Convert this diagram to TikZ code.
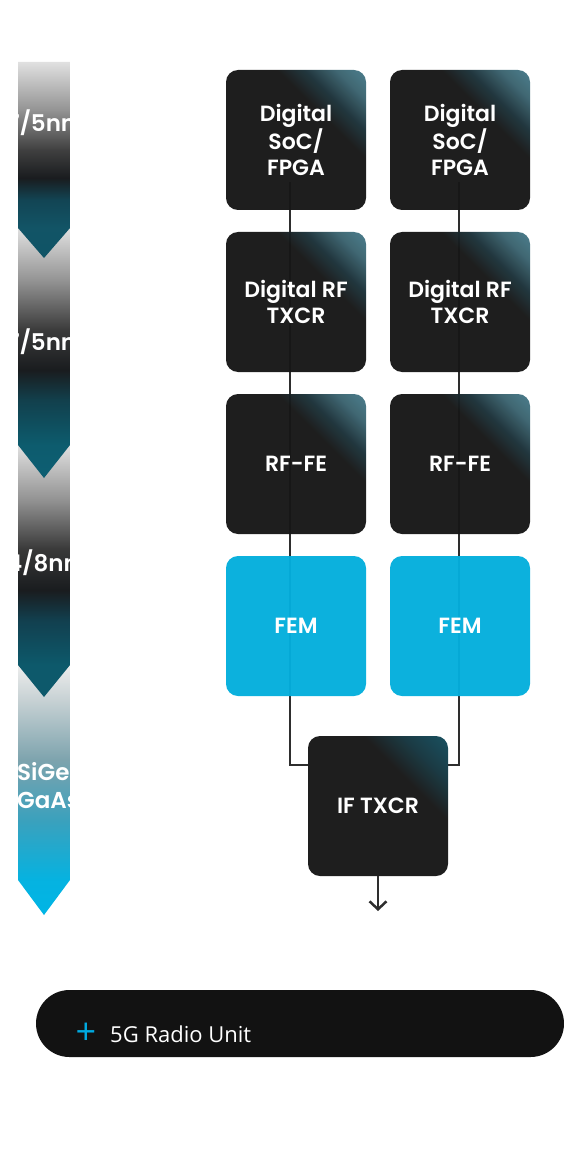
\documentclass[tikz,border=0pt]{standalone}
\usepackage{fontspec}
\setmainfont{Poppins}
\newfontfamily\chipfont{Poppins SemiBold}
\newfontfamily\unitfont{Open Sans}
\usetikzlibrary{arrows.meta}

\definecolor{boxdark}{HTML}{171717}
\definecolor{glowteal}{HTML}{4A8394}
\definecolor{glowmid}{HTML}{1C3C47}
\definecolor{ifteal}{HTML}{124D5E}
\definecolor{femblue}{HTML}{04AEDC}
\definecolor{wiregray}{HTML}{2E2E2E}
\definecolor{pillblack}{HTML}{121212}
\definecolor{plusblue}{HTML}{00A9E0}

\pgfdeclarehorizontalshading{chipglow}{100bp}{color(0bp)=(boxdark); color(63bp)=(boxdark); color(70bp)=(glowmid!70!boxdark); color(78bp)=(glowteal!70!boxdark); color(88bp)=(glowteal); color(100bp)=(glowteal)}
\pgfdeclarehorizontalshading{ifglow}{100bp}{color(0bp)=(boxdark); color(64bp)=(boxdark); color(74bp)=(ifteal!55!boxdark); color(86bp)=(ifteal); color(100bp)=(ifteal)}

% process bar, one shading per stage
\pgfdeclareverticalshading{stageA}{100bp}{rgb(0bp)=(0.06,0.33,0.40); rgb(25bp)=(0.06,0.33,0.40); rgb(32.7bp)=(0.07,0.33,0.40); rgb(39.8bp)=(0.07,0.27,0.33); rgb(45.4bp)=(0.10,0.11,0.12); rgb(52.6bp)=(0.25,0.25,0.25); rgb(62.8bp)=(0.58,0.58,0.58); rgb(75bp)=(0.88,0.88,0.88); rgb(100bp)=(0.88,0.88,0.88)}
\pgfdeclareverticalshading{stageB}{100bp}{rgb(0bp)=(0.05,0.37,0.45); rgb(25bp)=(0.05,0.37,0.45); rgb(31.6bp)=(0.05,0.36,0.43); rgb(40.6bp)=(0.07,0.25,0.30); rgb(46.6bp)=(0.10,0.11,0.12); rgb(54.6bp)=(0.23,0.23,0.23); rgb(64.6bp)=(0.58,0.58,0.58); rgb(75bp)=(0.88,0.88,0.88); rgb(100bp)=(0.88,0.88,0.88)}
\pgfdeclareverticalshading{stageC}{100bp}{rgb(0bp)=(0.05,0.35,0.42); rgb(25bp)=(0.05,0.35,0.42); rgb(31.3bp)=(0.05,0.35,0.42); rgb(40.2bp)=(0.07,0.25,0.31); rgb(46.2bp)=(0.10,0.11,0.12); rgb(54.2bp)=(0.22,0.22,0.22); rgb(64bp)=(0.57,0.57,0.57); rgb(75bp)=(0.88,0.88,0.88); rgb(100bp)=(0.88,0.88,0.88)}
\pgfdeclareverticalshading{stageD}{100bp}{rgb(0bp)=(0,0.71,0.90); rgb(25bp)=(0,0.71,0.90); rgb(32bp)=(0.02,0.70,0.88); rgb(44bp)=(0.23,0.63,0.74); rgb(56bp)=(0.49,0.64,0.68); rgb(68bp)=(0.78,0.82,0.83); rgb(75bp)=(0.93,0.93,0.93); rgb(100bp)=(0.93,0.93,0.93)}

\pgfdeclarelayer{wires}
\pgfsetlayers{wires,main}

\tikzset{
  block/.style={rounded corners=12pt, minimum width=140pt, minimum height=140pt, inner sep=0pt,
    fill opacity=0.97, text opacity=1, text=white,
    font=\chipfont\fontsize{22}{26}\selectfont, align=center},
  chip/.style={block, shading=chipglow, shading angle=45},
  fem/.style={block, fill=femblue},
  wire/.style={draw=wiregray, line width=2.5pt},
  stagelabel/.style={anchor=base west, inner sep=0pt, text=white, font=\chipfont\fontsize{23}{28}\selectfont, align=left},
  pill/.style={fill=pillblack, rounded corners=33.5pt, minimum width=528pt, minimum height=67pt, inner sep=0pt}
}

\begin{document}
\begin{tikzpicture}[x=1pt, y=-1pt]
    \useasboundingbox (0, 0) rectangle (564, 1150);

    % process bar
    \shade[shading=stageD] (18, 665) to (70, 665) to (70, 880) to (44, 915) to (18, 880) -- cycle;
    \shade[shading=stageC] (18, 445) to (70, 445) to (70, 665) to (44, 697) to (18, 665) -- cycle;
    \shade[shading=stageB] (18, 228) to (70, 228) to (70, 445) to (44, 478) to (18, 445) -- cycle;
    \shade[shading=stageA] (18, 62) to (70, 62) to (70, 228) to (44, 258) to (18, 228) -- cycle;

    \node[stagelabel] (nodeA) at (7, 132) {7/5nm};
    \node[stagelabel] (nodeB) at (7, 350) {7/5nm};
    \node[stagelabel] (nodeC) at (7, 571) {4/8nm};
    \node[stagelabel] (nodeD) at (17, 808) {SiGe/\\GaAs};

    % two chains
    \node[chip] (socL) at (296, 140) {Digital\\SoC/\\FPGA};
    \node[chip] (socR) at (460, 140) {Digital\\SoC/\\FPGA};
    \node[chip] (rfL) at (296, 302) {Digital RF\\TXCR};
    \node[chip] (rfR) at (460, 302) {Digital RF\\TXCR};
    \node[chip] (feL) at (296, 464) {RF-FE};
    \node[chip] (feR) at (460, 464) {RF-FE};
    \node[fem] (femL) at (296, 626) {FEM};
    \node[fem] (femR) at (460, 626) {FEM};
    \node[chip, shading=ifglow] (iftx) at (378, 806) {IF TXCR};

    \coordinate (tapL) at (290, 182);
    \coordinate (tapR) at (459, 182);
    \coordinate (joinL) at (290, 765);
    \coordinate (joinR) at (459, 765);
    \coordinate (out) at (378, 911);

    \begin{pgfonlayer}{wires}
        \draw[wire] (tapL) to (joinL) to (joinL -| iftx.west);
        \draw[wire] (tapR) to (joinR) to (joinR -| iftx.east);
    \end{pgfonlayer}
    \draw[wire, -{Straight Barb[length=8pt, width=17pt]}] (iftx.south) to (out);

    % footer
    \node[pill] (radio) at (300, 1023.5) {};
    \node[text=plusblue, inner sep=0pt, font=\unitfont\fontsize{36}{36}\selectfont] (plus) at (86, 1034) {+};
    \node[anchor=base west, inner sep=0pt, text=white, font=\unitfont\fontsize{22}{22}\selectfont] (unit) at (110, 1042) {5G Radio Unit};
\end{tikzpicture}
\end{document}
